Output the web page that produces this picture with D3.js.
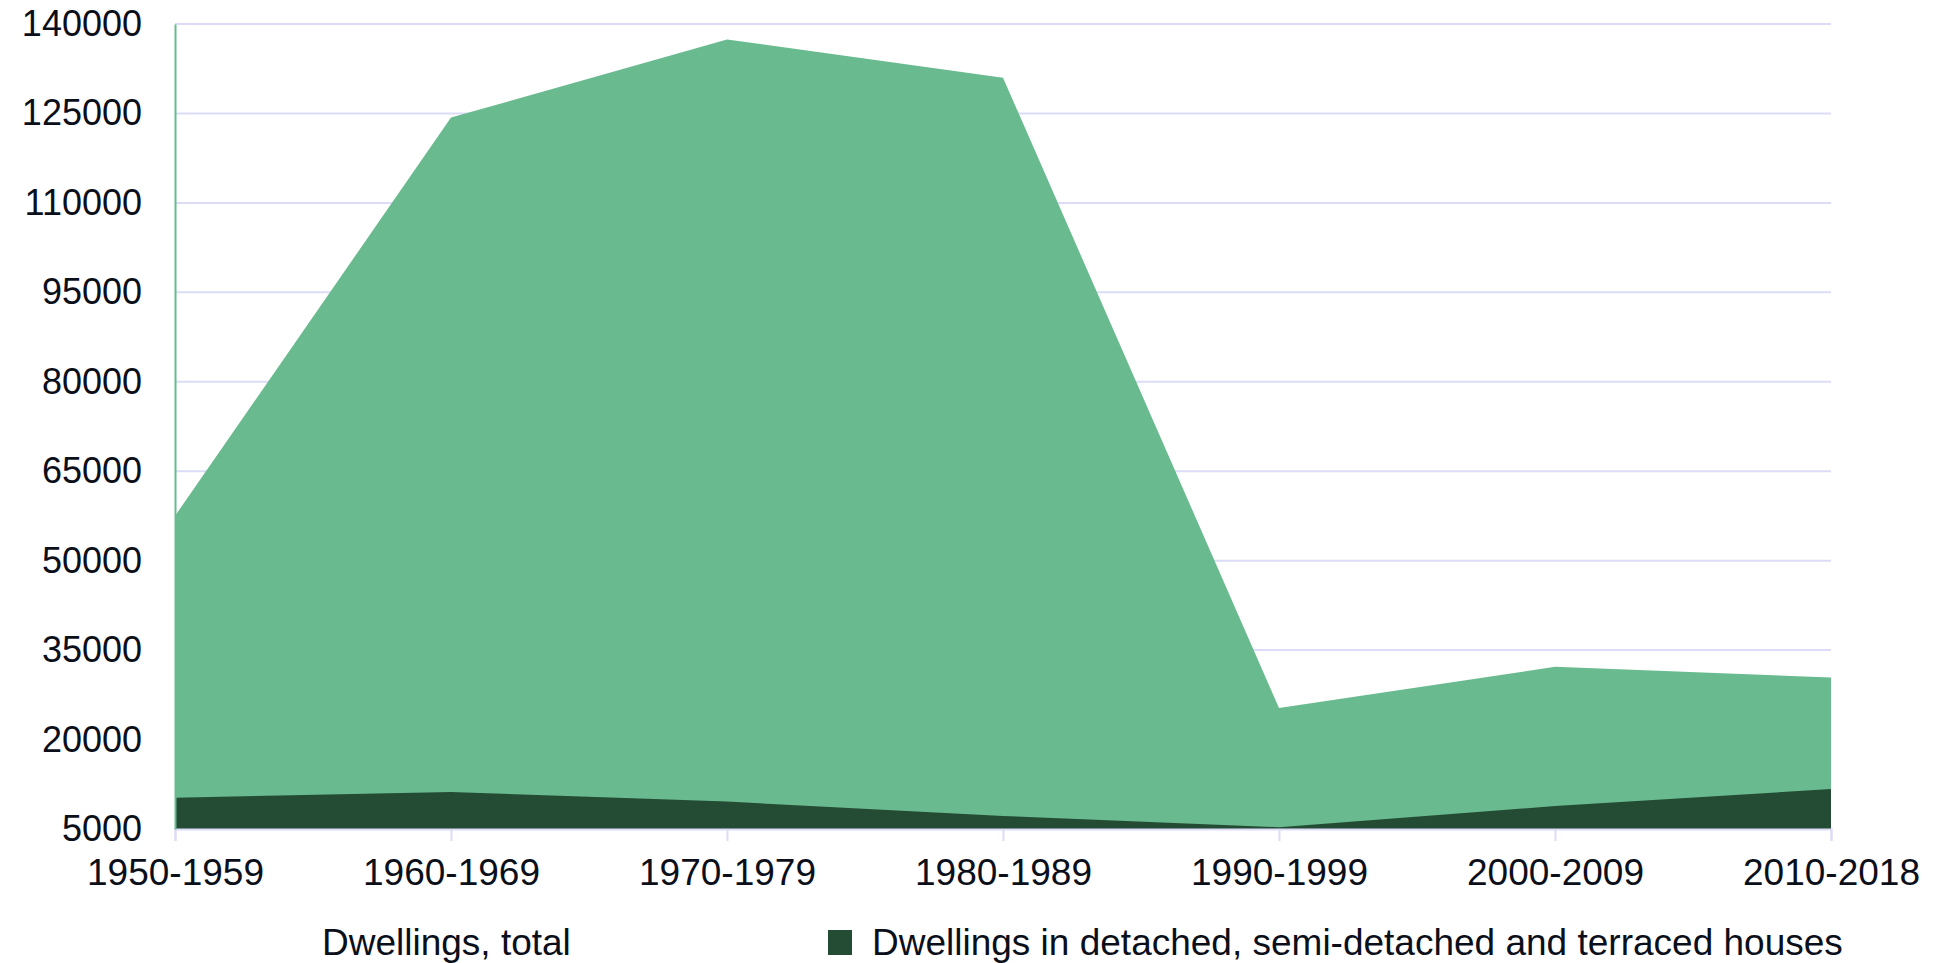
<!DOCTYPE html>
<html>
<head>
<meta charset="utf-8">
<script src="https://cdn.jsdelivr.net/npm/d3@7"></script>
<style>
  html, body { margin: 0; padding: 0; background: #fff; overflow: hidden; }
  svg text { font-family: "Liberation Sans", Arial, sans-serif; fill: #0b0f19; }
</style>
</head>
<body>
<div id="chart"></div>
<script>
const width = 1937;
const height = 963;

// data
const periods = ["1950-1959", "1960-1969", "1970-1979", "1980-1989", "1990-1999", "2000-2009", "2010-2018"];
const totalDwellings = [57500, 124300, 137400, 131000, 25300, 32200, 30400];
const houseDwellings = [10250, 11200, 9600, 7200, 5300, 8850, 11700];
const yTicks = [5000, 20000, 35000, 50000, 65000, 80000, 95000, 110000, 125000, 140000];
const legendLabels = ["Dwellings, total", "Dwellings in detached, semi-detached and terraced houses"];

const lightGreen = "#69ba8f";
const darkGreen = "#244c35";
const gridColor = "#dcdcf8";

const margin = { top: 24, right: 106, bottom: 134, left: 175 };

const svg = d3.select("#chart")
    .append("svg")
    .attr("width", width)
    .attr("height", height);

const x = d3.scalePoint()
    .domain(periods)
    .range([margin.left, width - margin.right]);

const y = d3.scaleLinear()
    .domain([5000, 140000])
    .range([height - margin.bottom, margin.top]);

// horizontal grid lines
svg.append("g")
    .selectAll("line")
    .data(yTicks)
    .enter()
    .append("line")
    .attr("x1", margin.left)
    .attr("x2", width - margin.right)
    .attr("y1", d => y(d))
    .attr("y2", d => y(d))
    .attr("stroke", gridColor)
    .attr("stroke-width", 2);

const area = (values) => d3.area()
    .x((d, i) => x(periods[i]))
    .y0(y(5000))
    .y1(d => y(d))(values);

svg.append("path")
    .attr("d", area(totalDwellings))
    .attr("fill", lightGreen);

svg.append("path")
    .attr("d", area(houseDwellings))
    .attr("fill", darkGreen);

// x axis
const xAxis = svg.append("g")
    .attr("transform", `translate(0,${y(5000)})`)
    .call(d3.axisBottom(x).tickSize(12).tickPadding(18));
xAxis.select(".domain").attr("stroke", gridColor).attr("stroke-width", 2);
xAxis.selectAll(".tick line").attr("stroke", gridColor).attr("stroke-width", 2);
xAxis.selectAll("text")
    .attr("font-size", 37)
    .attr("fill", "#0b0f19")
    .attr("font-family", "Liberation Sans, Arial, sans-serif");

// y axis
const yAxis = svg.append("g")
    .attr("transform", `translate(${margin.left},0)`)
    .call(d3.axisLeft(y).tickValues(yTicks).tickSize(0).tickPadding(33).tickFormat(d3.format("d")));
yAxis.select(".domain").attr("stroke", lightGreen).attr("stroke-width", 2);
yAxis.selectAll("text")
    .attr("font-size", 36)
    .attr("fill", "#0b0f19")
    .attr("font-family", "Liberation Sans, Arial, sans-serif");

// legend
const legend = svg.append("g");
legend.append("text")
    .attr("x", 322)
    .attr("y", 955)
    .attr("font-size", 37)
    .text(legendLabels[0]);

legend.append("rect")
    .attr("x", 828)
    .attr("y", 930)
    .attr("width", 24)
    .attr("height", 25)
    .attr("fill", darkGreen);

legend.append("text")
    .attr("x", 872)
    .attr("y", 955)
    .attr("font-size", 37)
    .text(legendLabels[1]);
</script>
</body>
</html>
